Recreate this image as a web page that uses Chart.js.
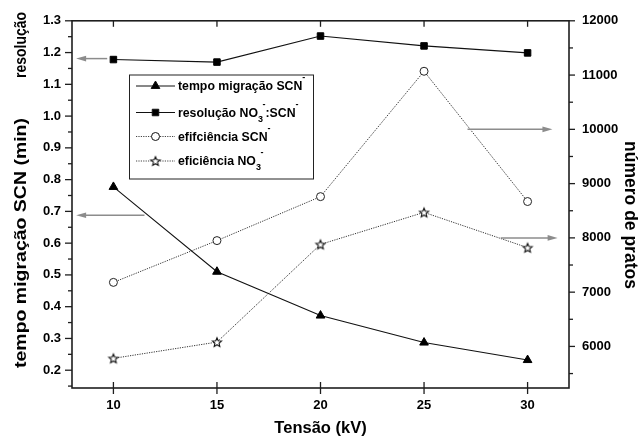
<!DOCTYPE html>
<html>
<head>
<meta charset="utf-8">
<script src="https://cdn.jsdelivr.net/npm/chart.js@4.4.1/dist/chart.umd.min.js"></script>
<style>
  body { margin: 0; background: #fff; }
</style>
</head>
<body>
<canvas id="myChart" width="643" height="444"></canvas>
<script>
// tensão aplicada (kV)
var tensao = [10, 15, 20, 25, 30];
// eixo esquerdo
var tempoSCN = [0.777, 0.51, 0.372, 0.287, 0.232];
var resolucao = [1.178, 1.17, 1.252, 1.221, 1.199];
// eixo direito (número de pratos)
var eficSCN = [7180, 7950, 8760, 11070, 8670];
var eficNO3 = [5780, 6080, 7880, 8470, 7820];

var xTicks = [10, 15, 20, 25, 30];
var leftTicks = [0.2, 0.3, 0.4, 0.5, 0.6, 0.7, 0.8, 0.9, 1.0, 1.1, 1.2, 1.3];
var rightTicks = [6000, 7000, 8000, 9000, 10000, 11000, 12000];

var FONT = '"Liberation Sans", Arial, sans-serif';

// setas indicando o eixo de cada curva
var setas = [
  { axis: 'y', y: 1.181, from: 9.7, to: 8.2 },
  { axis: 'y', y: 0.688, from: 11.5, to: 8.2 },
  { axis: 'y1', y: 10000, from: 27.1, to: 31.2 },
  { axis: 'y1', y: 8000, from: 28.7, to: 31.45 }
];

function makeStar(r) {
  var c = document.createElement('canvas');
  var s = Math.ceil(r * 2 + 4);
  c.width = s; c.height = s;
  var g = c.getContext('2d');
  g.translate(s / 2, s / 2 + 0.5);
  g.beginPath();
  for (var i = 0; i < 10; i++) {
    var rr = i % 2 ? r * 0.45 : r;
    var a = -Math.PI / 2 + i * Math.PI / 5;
    g.lineTo(Math.cos(a) * rr, Math.sin(a) * rr);
  }
  g.closePath();
  g.fillStyle = '#fff';
  g.fill();
  g.strokeStyle = '#111';
  g.lineWidth = 1.1;
  g.stroke();
  return c;
}
var star = makeStar(4.8);

var legendItems = [
  { style: 'triangle', radius: 5, fill: '#000', dash: [], parts: [['tempo migração SCN'], ['-', 'sup']] },
  { style: 'rect', radius: 4.6, fill: '#000', dash: [], parts: [['resolução NO'], ['3', 'sub'], ['-', 'sup'], [':SCN'], ['-', 'sup']] },
  { style: 'circle', radius: 4, fill: '#fff', dash: [1.2, 1.2], parts: [['efifciência SCN'], ['-', 'sup']] },
  { style: star, radius: 5, fill: '#fff', dash: [1.2, 1.2], parts: [['eficiência NO'], ['3', 'sub'], ['-', 'sup']] }
];

function pts(ys) {
  return tensao.map(function (x, i) { return { x: x, y: ys[i] }; });
}

function line(ctx, x1, y1, x2, y2) {
  ctx.beginPath();
  ctx.moveTo(x1, y1);
  ctx.lineTo(x2, y2);
  ctx.stroke();
}

function minors(ticks) {
  var out = [];
  var step = ticks[1] - ticks[0];
  out.push(ticks[0] - step / 2);
  for (var i = 0; i < ticks.length - 1; i++) out.push((ticks[i] + ticks[i + 1]) / 2);
  return out;
}

// texto girado, esticado até o comprimento pedido
function rotatedText(ctx, text, cx, cy, angle, size, len) {
  ctx.save();
  ctx.font = 'bold ' + size + 'px ' + FONT;
  ctx.translate(cx, cy);
  ctx.rotate(angle);
  var w = ctx.measureText(text).width;
  if (len) ctx.scale(len / w, 1);
  ctx.fillText(text, 0, 0);
  ctx.restore();
}

var framePlugin = {
  id: 'frame',
  beforeDatasetsDraw: function (chart) {
    var ctx = chart.ctx, a = chart.chartArea;
    var xs = chart.scales.x, yl = chart.scales.y, yr = chart.scales.y1;
    ctx.save();
    ctx.strokeStyle = '#1e1e1e';
    ctx.lineWidth = 1.6;
    ctx.strokeRect(a.left, a.top, a.right - a.left, a.bottom - a.top);
    ctx.lineWidth = 1.3;
    xTicks.forEach(function (v) {
      var px = xs.getPixelForValue(v);
      line(ctx, px, a.bottom - 6, px, a.bottom + 6);
      line(ctx, px, a.top, px, a.top + 6);
    });
    leftTicks.forEach(function (v) {
      var py = yl.getPixelForValue(v);
      line(ctx, a.left - 7, py, a.left, py);
    });
    minors(leftTicks).forEach(function (v) {
      var py = yl.getPixelForValue(v);
      if (py <= a.bottom) line(ctx, a.left - 4, py, a.left, py);
    });
    rightTicks.forEach(function (v) {
      var py = yr.getPixelForValue(v);
      line(ctx, a.right, py, a.right + 6, py);
    });
    minors(rightTicks).forEach(function (v) {
      var py = yr.getPixelForValue(v);
      if (py <= a.bottom) line(ctx, a.right, py, a.right + 4, py);
    });
    ctx.restore();
  },
  afterDraw: function (chart) {
    var ctx = chart.ctx, a = chart.chartArea;
    var xs = chart.scales.x;
    ctx.save();

    // setas
    ctx.strokeStyle = '#8c8c8c';
    ctx.fillStyle = '#8c8c8c';
    ctx.lineWidth = 1.5;
    setas.forEach(function (s) {
      var py = chart.scales[s.axis].getPixelForValue(s.y);
      var x1 = xs.getPixelForValue(s.from), x2 = xs.getPixelForValue(s.to);
      var dir = x2 > x1 ? 1 : -1;
      line(ctx, x1, py, x2 - dir * 8, py);
      ctx.beginPath();
      ctx.moveTo(x2, py);
      ctx.lineTo(x2 - dir * 10, py - 2.8);
      ctx.lineTo(x2 - dir * 10, py + 2.8);
      ctx.closePath();
      ctx.fill();
    });

    // legenda
    var bx = 129.5, by = 75, bw = 184, bh = 104;
    ctx.fillStyle = '#fff';
    ctx.fillRect(bx, by, bw, bh);
    ctx.strokeStyle = '#222';
    ctx.lineWidth = 1;
    ctx.strokeRect(bx, by, bw, bh);
    var rows = [86, 112.5, 136.5, 161];
    legendItems.forEach(function (it, i) {
      var y = rows[i];
      ctx.strokeStyle = it.dash.length ? '#444' : '#111';
      ctx.lineWidth = 1;
      ctx.setLineDash(it.dash);
      line(ctx, 136, y, 175, y);
      ctx.setLineDash([]);
      ctx.fillStyle = it.fill;
      ctx.strokeStyle = '#111';
      Chart.helpers.drawPoint(ctx, { pointStyle: it.style, radius: it.radius, borderWidth: 1, rotation: 0 }, 155.5, y);
      var x = 178;
      ctx.fillStyle = '#000';
      ctx.textBaseline = 'middle';
      ctx.textAlign = 'left';
      it.parts.forEach(function (p) {
        var yy = y + 1;
        if (p[1] === 'sup') { ctx.font = 'bold 9px ' + FONT; yy = y - 8; }
        else if (p[1] === 'sub') { ctx.font = 'bold 9px ' + FONT; yy = y + 7; }
        else { ctx.font = 'bold 12.3px ' + FONT; }
        ctx.fillText(p[0], x, yy);
        x += ctx.measureText(p[0]).width + (p[1] === 'sub' ? -0.5 : 0);
      });
    });

    // títulos dos eixos
    ctx.fillStyle = '#000';
    ctx.textAlign = 'center';
    ctx.textBaseline = 'middle';
    ctx.font = 'bold 16.5px ' + FONT;
    ctx.fillText('Tensão (kV)', (a.left + a.right) / 2, 428);

    rotatedText(ctx, 'tempo migração SCN (min)', 21, 243, -Math.PI / 2, 16.5, 250);
    rotatedText(ctx, 'resolução', 21, 45, -Math.PI / 2, 16.5, 66);
    rotatedText(ctx, 'número de pratos', 630, 215, Math.PI / 2, 17.5, 0);

    ctx.restore();
  }
};

const data = {
  datasets: [
    {
      label: 'tempo migração SCN-',
      data: pts(tempoSCN),
      yAxisID: 'y',
      borderColor: '#111',
      borderWidth: 1.1,
      pointStyle: 'triangle',
      pointRadius: 5,
      pointBackgroundColor: '#000',
      pointBorderColor: '#000',
      pointBorderWidth: 1
    },
    {
      label: 'resolução NO3-:SCN-',
      data: pts(resolucao),
      yAxisID: 'y',
      borderColor: '#111',
      borderWidth: 1.1,
      pointStyle: 'rect',
      pointRadius: 4.6,
      pointBackgroundColor: '#000',
      pointBorderColor: '#000',
      pointBorderWidth: 1
    },
    {
      label: 'efifciência SCN-',
      data: pts(eficSCN),
      yAxisID: 'y1',
      borderColor: '#333',
      borderWidth: 1,
      borderDash: [1.2, 1.2],
      pointStyle: 'circle',
      pointRadius: 4,
      pointBackgroundColor: '#fff',
      pointBorderColor: '#222',
      pointBorderWidth: 1
    },
    {
      label: 'eficiência NO3-',
      data: pts(eficNO3),
      yAxisID: 'y1',
      borderColor: '#333',
      borderWidth: 1,
      borderDash: [1.2, 1.2],
      pointStyle: star,
      pointRadius: 5
    }
  ]
};

const tickFont = { family: FONT, size: 13, weight: 'bold' };

const config = {
  type: 'line',
  data: data,
  options: {
    responsive: false,
    animation: false,
    layout: { padding: { top: 19, left: 0, right: 0, bottom: 0 } },
    plugins: {
      legend: { display: false },
      tooltip: { enabled: false }
    },
    scales: {
      x: {
        type: 'linear',
        min: 8,
        max: 32,
        afterBuildTicks: function (s) { s.ticks = xTicks.map(function (v) { return { value: v }; }); },
        afterFit: function (s) { s.height = 56; },
        grid: { display: false, drawTicks: false },
        border: { display: false },
        ticks: { font: tickFont, color: '#000', padding: 10, maxRotation: 0 }
      },
      y: {
        position: 'left',
        min: 0.144,
        max: 1.3,
        afterBuildTicks: function (s) { s.ticks = leftTicks.map(function (v) { return { value: v }; }); },
        afterFit: function (s) { s.width = 72; },
        grid: { display: false, drawTicks: false },
        border: { display: false },
        ticks: {
          font: tickFont, color: '#000', padding: 11,
          callback: function (v) { return v.toFixed(1); }
        }
      },
      y1: {
        position: 'right',
        min: 5234,
        max: 12000,
        afterBuildTicks: function (s) { s.ticks = rightTicks.map(function (v) { return { value: v }; }); },
        afterFit: function (s) { s.width = 74; },
        grid: { display: false, drawTicks: false },
        border: { display: false },
        ticks: {
          font: tickFont, color: '#000', padding: 13,
          callback: function (v) { return String(v); }
        }
      }
    }
  },
  plugins: [framePlugin]
};

var ctx = document.getElementById('myChart').getContext('2d');
var myChart = new Chart(ctx, config);
</script>
</body>
</html>
